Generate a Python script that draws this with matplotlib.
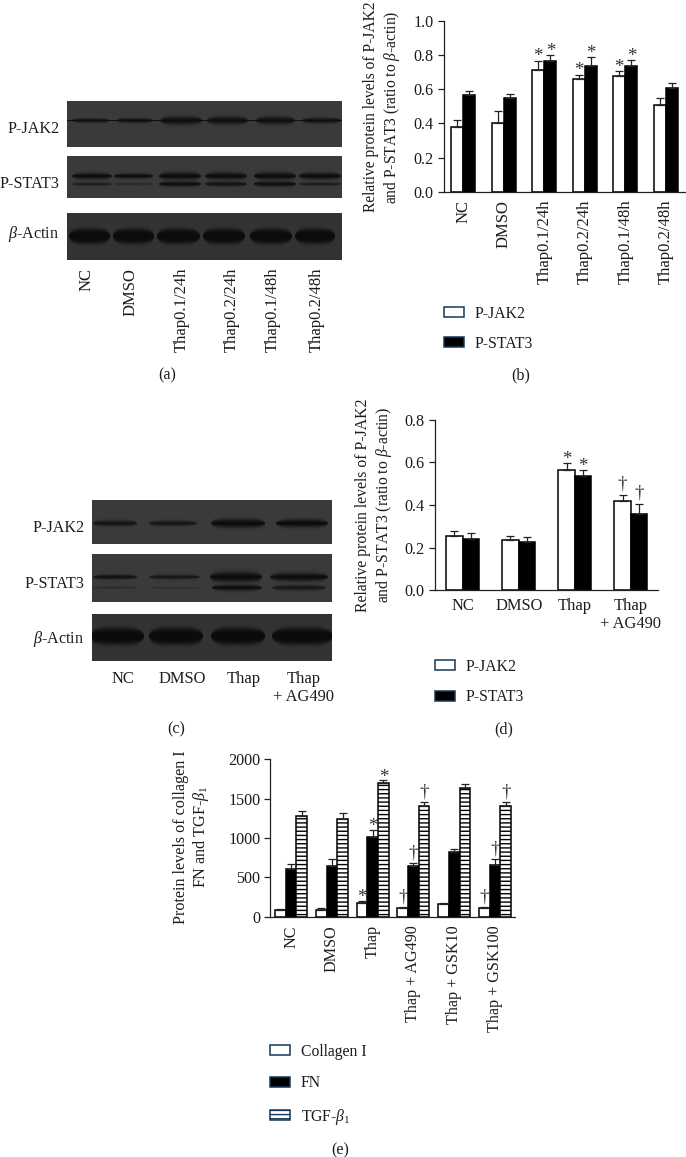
import numpy as np
import matplotlib
matplotlib.use("Agg")
import matplotlib.pyplot as plt
from matplotlib.patches import Patch
from matplotlib.transforms import IdentityTransform

plt.rcParams.update({
    "font.family": ["Liberation Serif", "DejaVu Serif"],
    "mathtext.fontset": "custom",
    "mathtext.rm": "Liberation Serif",
    "mathtext.it": "Liberation Serif:italic",
    "mathtext.bf": "Liberation Serif:bold",
    "hatch.linewidth": 1.0,
})

W, H = 686, 1157
TXT = "#1c1c1c"
FS = 11.6
FS_LEG = 11.3
FS_WIDE = 12.0
NAVY = "#17385a"

# ---------- data ----------
b_groups = ["NC", "DMSO", "Thap0.1/24h", "Thap0.2/24h", "Thap0.1/48h", "Thap0.2/48h"]
b_jak = [0.377, 0.40, 0.71, 0.658, 0.675, 0.506]
b_jak_top = [0.42, 0.47, 0.766, 0.685, 0.704, 0.549]
b_stat = [0.566, 0.547, 0.765, 0.735, 0.737, 0.605]
b_stat_top = [0.59, 0.574, 0.798, 0.786, 0.77, 0.634]
b_jak_mark = ["", "", "*", "*", "*", ""]
b_stat_mark = ["", "", "*", "*", "*", ""]

d_groups = ["NC", "DMSO", "Thap", "Thap\n+ AG490"]
d_jak = [0.254, 0.234, 0.563, 0.42]
d_jak_top = [0.279, 0.254, 0.598, 0.449]
d_stat = [0.238, 0.224, 0.535, 0.358]
d_stat_top = [0.27, 0.251, 0.565, 0.405]
d_jak_mark = ["", "", "*", "†"]
d_stat_mark = ["", "", "*", "†"]

e_groups = ["NC", "DMSO", "Thap", "Thap + AG490", "Thap + GSK10", "Thap + GSK100"]
e_col = [85, 90, 180, 106, 158, 106]
e_col_top = [102, 106, 203, 123, 174, 123]
e_fn = [610, 644, 1013, 640, 826, 661]
e_fn_top = [674, 729, 1102, 678, 864, 729]
e_tgf = [1275, 1242, 1699, 1403, 1640, 1403]
e_tgf_top = [1347, 1314, 1733, 1453, 1682, 1453]
e_col_mark = ["", "", "*", "†", "", "†"]
e_fn_mark = ["", "", "*", "†", "", "†"]
e_tgf_mark = ["", "", "*", "†", "", "†"]

a_lanes = ["NC", "DMSO", "Thap0.1/24h", "Thap0.2/24h", "Thap0.1/48h", "Thap0.2/48h"]
c_lanes = ["NC", "DMSO", "Thap", "Thap\n+ AG490"]
a_jak_band = [2.0, 2.2, 4.0, 3.8, 3.8, 2.6]
a_stat_hi = [3.0, 2.4, 3.6, 3.4, 3.6, 3.3]
a_stat_lo = [1.8, 1.4, 2.6, 2.3, 2.7, 1.8]
c_jak_band = [2.8, 2.6, 4.4, 3.9]
c_stat_hi = [2.3, 2.2, 5.0, 4.0]
c_stat_lo = [1.4, 1.2, 3.0, 2.6]

fig = plt.figure(figsize=(W / 100, H / 100), dpi=100, facecolor="white")


def rect(l, t, r, b):
    return [l / W, 1 - b / H, (r - l) / W, (b - t) / H]


def ftext(x, y, s, **kw):
    kw.setdefault("fontsize", FS)
    kw.setdefault("color", TXT)
    kw.setdefault("ha", "center")
    kw.setdefault("va", "center")
    fig.text(x / W, 1 - y / H, s, **kw)


def blot(box, bg, bands):
    """bands: list of (y centre, spans, thickness per lane, strength per lane, exponent)."""
    l, t, r, b = box
    xs = np.arange(l, r, 1.0) + 0.5
    ys = np.arange(t, b, 1.0) + 0.5
    X, Y = np.meshgrid(xs, ys)
    dark = np.zeros_like(X)
    for yc, spans, sig, amp, p in bands:
        for (x0, x1), s, a in zip(spans, sig, amp):
            xc, hw = (x0 + x1) / 2, (x1 - x0) / 2
            u = np.clip(np.abs(X - xc) / hw, 0, 1)
            se = s * np.sqrt(np.clip(1 - u ** 4, 1e-4, 1))
            dark = np.maximum(dark, a * np.exp(-(np.abs(Y - yc) / se) ** p))
    img = bg - dark * (bg - 0.04)
    ax = fig.add_axes(rect(l, t, r, b))
    ax.imshow(img, cmap="gray", vmin=0, vmax=1, aspect="auto", interpolation="bilinear")
    ax.axis("off")


def style(ax, ylim, yticks, fmt):
    for s in ("top", "right"):
        ax.spines[s].set_visible(False)
    for s in ("left", "bottom"):
        ax.spines[s].set_linewidth(0.9)
        ax.spines[s].set_color("#222222")
    ax.set_ylim(*ylim)
    ax.set_yticks(yticks)
    ax.set_yticklabels([fmt.format(v) for v in yticks], fontsize=FS, color=TXT)
    ax.tick_params(axis="y", length=4.3, width=0.9, pad=3, color="#222222")
    ax.patch.set_alpha(0)


def series(ax, xs, vals, tops, marks, width, mark_off, **kw):
    yerr = [np.zeros(len(vals)), np.array(tops) - np.array(vals)]
    ax.bar(xs, vals, width, edgecolor="black", linewidth=1.1, **kw)
    ax.errorbar(xs, vals, yerr=yerr, fmt="none", ecolor="#222222", elinewidth=0.9,
                capsize=2.9, capthick=0.9)
    for x, top, m in zip(xs, tops, marks):
        if m:
            off = mark_off - 5 if m == "*" else mark_off
            ax.annotate(m, (x, top), xytext=(0, off), textcoords="offset points",
                        ha="center", va="baseline", fontsize=FS + 2, color="#333333")


def xlabels(ax, labels, rot, pad, fs):
    ax.set_xticks(range(len(labels)))
    ax.set_xticklabels(labels, rotation=rot, fontsize=fs, color=TXT,
                       ha="center", va="top", linespacing=1.15)
    ax.tick_params(axis="x", length=0, pad=pad)


def legend(ax, handles, labels, x, y, spacing):
    ax.legend(handles, labels, loc="upper left", bbox_to_anchor=(x, H - y),
              bbox_transform=IdentityTransform(), frameon=False, borderpad=0, borderaxespad=0,
              handlelength=1.28, handleheight=0.6, handletextpad=0.68, labelspacing=spacing,
              fontsize=FS_LEG, labelcolor=TXT)


white = Patch(facecolor="white", edgecolor=NAVY, linewidth=1.1)
black = Patch(facecolor="black", edgecolor=NAVY, linewidth=1.1)
stripe = Patch(facecolor="white", edgecolor=NAVY, linewidth=1.1, hatch="----")

# ---------- panel a ----------
blot((67, 101, 342, 147), 0.23, [
    (120.5, [(72, 110), (116, 153), (160, 202), (207, 248), (256, 295), (302, 341)],
     a_jak_band, [.9] * 6, 2)])
blot((67, 156, 342, 198), 0.23, [
    (176, [(72, 112), (114, 153), (159, 201), (205, 247), (254, 296), (299, 341)],
     a_stat_hi, [.95] * 6, 2),
    (184, [(72, 112), (114, 153), (159, 201), (205, 247), (254, 296), (299, 341)],
     a_stat_lo, [.6, .35, .9, .8, .9, .6], 2)])
blot((67, 213, 342, 260), 0.2, [
    (236.7, [(69, 110), (113, 154), (157, 200), (203, 245), (250, 292), (295, 335)],
     [7.5] * 6, [.97] * 6, 4)])
for t, y in zip(["P-JAK2", "P-STAT3", r"$\beta$-Actin"], [129, 184, 234]):
    ftext(59.5, y, t, ha="right")
for t, x in zip(a_lanes, [86.7, 131, 181.7, 231.7, 273, 316.7]):
    ftext(x, 267.7, t, rotation=90, va="top", fontsize=FS_WIDE)
ftext(166.7, 375, "(a)")

# ---------- panel b ----------
axb = fig.add_axes(rect(443.7, 20.7, 686, 192))
x = np.arange(len(b_groups))
series(axb, x - 0.15, b_jak, b_jak_top, b_jak_mark, 0.3, 4.5, facecolor="white")
series(axb, x + 0.15, b_stat, b_stat_top, b_stat_mark, 0.3, 4.5, facecolor="black")
axb.set_xlim(-0.484, 5.5)
style(axb, (0, 1.0), [0, .2, .4, .6, .8, 1.0], "{:.1f}")
xlabels(axb, b_groups, 90, 5.5, FS_WIDE)
legend(axb, [white, black], ["P-JAK2", "P-STAT3"], 443.7, 305.5, 0.9)
ftext(382.5, 107, "Relative protein levels of P-JAK2\nand P-STAT3 (ratio to $\\beta$-actin)",
      rotation=90, linespacing=1.15, multialignment="center", fontsize=11.2)
ftext(520.7, 375, "(b)")

# ---------- panel c ----------
blot((92, 500, 332, 544), 0.23, [
    (523.3, [(93, 137), (149, 197), (211, 265), (276, 328)], c_jak_band, [.8, .75, .97, .97], 2)])
blot((92, 554, 332, 602), 0.23, [
    (577, [(93, 137), (149, 200), (210, 262), (270, 328)], c_stat_hi, [.85, .75, .97, .95], 2),
    (587.7, [(93, 137), (149, 200), (212, 262), (272, 326)], c_stat_lo, [.3, .2, .92, .72], 2)])
blot((92, 614, 332, 661), 0.2, [
    (636.7, [(90, 144), (149, 203), (211, 265), (272, 333)], [8.5] * 4, [.98] * 4, 4)])
for t, y in zip(["P-JAK2", "P-STAT3", r"$\beta$-Actin"], [527.7, 584, 639]):
    ftext(84.3, y, t, ha="right")
for t, x_ in zip(c_lanes, [122.7, 182.7, 243.3, 303.3]):
    ftext(x_, 671, t, va="top", linespacing=1.15, fontsize=11.9)
ftext(175.7, 729, "(c)")

# ---------- panel d ----------
axd = fig.add_axes(rect(435, 420, 658.3, 590))
x = np.arange(len(d_groups))
series(axd, x - 0.148, d_jak, d_jak_top, d_jak_mark, 0.295, 4.5, facecolor="white")
series(axd, x + 0.148, d_stat, d_stat_top, d_stat_mark, 0.295, 4.5, facecolor="black")
axd.set_xlim(-0.495, 3.49)
style(axd, (0, 0.8), [0, .2, .4, .6, .8], "{:.1f}")
xlabels(axd, d_groups, 0, 6, 11.9)
legend(axd, [white, black], ["P-JAK2", "P-STAT3"], 435, 659, 0.9)
ftext(374.5, 505, "Relative protein levels of P-JAK2\nand P-STAT3 (ratio to $\\beta$-actin)",
      rotation=90, linespacing=1.15, multialignment="center", fontsize=11.3)
ftext(504, 729, "(d)")

# ---------- panel e ----------
axe = fig.add_axes(rect(270.3, 759.3, 515, 916.7))
x = np.arange(len(e_groups))
series(axe, x - 0.262, e_col, e_col_top, e_col_mark, 0.262, 4, facecolor="white")
series(axe, x, e_fn, e_fn_top, e_fn_mark, 0.262, 4, facecolor="black")
series(axe, x + 0.262, e_tgf, e_tgf_top, e_tgf_mark, 0.262, 4, facecolor="white", hatch="----")
axe.set_xlim(-0.51, 5.49)
style(axe, (0, 2000), [0, 500, 1000, 1500, 2000], "{:d}")
xlabels(axe, e_groups, 90, 6, FS)
legend(axe, [white, black, stripe], ["Collagen I", "FN", "TGF-$\\beta_{\\mathrm{1}}$"], 270.3, 1044, 0.98)
ftext(192, 837, "Protein levels of collagen I\nFN and TGF-$\\beta_{\\mathrm{1}}$",
      rotation=90, linespacing=1.15, multialignment="center")
ftext(340, 1150, "(e)")

fig.savefig("out.png", dpi=100, facecolor="white")
